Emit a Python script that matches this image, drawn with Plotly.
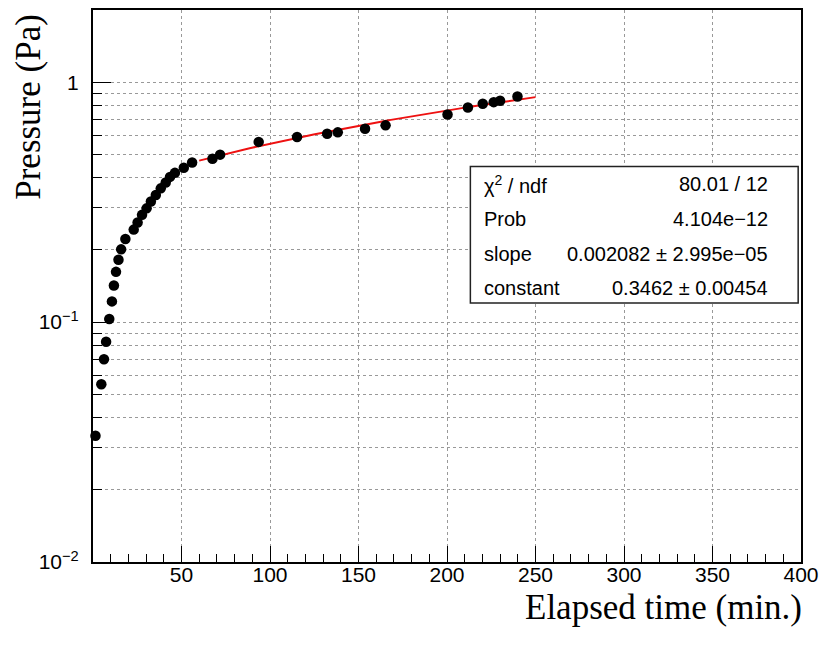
import plotly.graph_objects as go

# ---- data ----
time_min = [1.4, 4.7, 6.2, 7.4, 9.2, 10.7, 11.8, 13.0, 14.4, 15.9, 18.3, 23.0, 25.2,
            27.7, 30.3, 32.7, 35.5, 38.3, 41.1, 43.5, 46.3, 51.3, 56.0, 67.5, 71.8,
            93.6, 115.3, 132.3, 138.3, 153.7, 165.3, 200.3, 211.8, 220.2, 226.4,
            230.0, 239.8]
pressure_pa = [0.0336, 0.0551, 0.070, 0.0828, 0.103, 0.122, 0.142, 0.162, 0.182,
               0.201, 0.222, 0.243, 0.260, 0.280, 0.298, 0.318, 0.339, 0.361, 0.382,
               0.403, 0.419, 0.440, 0.463, 0.480, 0.499, 0.564, 0.591, 0.610, 0.618,
               0.640, 0.661, 0.734, 0.785, 0.813, 0.826, 0.837, 0.872]

fit_slope = 0.002082
fit_constant = 0.3462
fit_range = [60, 250]

stat_labels = ["χ<sup>2</sup> / ndf", "Prob", "slope", "constant"]
stat_values = ["80.01 / 12", "4.104e−12", "0.002082 ± 2.995e−05", "0.3462 ± 0.00454"]

x_tick_vals = [50, 100, 150, 200, 250, 300, 350, 400]
y_tick_vals = [0.01, 0.1, 1]
y_tick_text = ["10<sup>−2</sup>", "10<sup>−1</sup>", "1"]
y_minor_vals = [m * d for d in (0.01, 0.1, 1) for m in range(2, 10)]

# ---- figure ----
fit_x = [fit_range[0] + i * (fit_range[1] - fit_range[0]) / 100 for i in range(101)]
fit_y = [fit_constant + fit_slope * x for x in fit_x]

fig = go.Figure()
fig.add_trace(go.Scatter(x=fit_x, y=fit_y, mode="lines",
                         line=dict(color="#ee1111", width=2), hoverinfo="skip"))
fig.add_trace(go.Scatter(x=time_min, y=pressure_pa, mode="markers",
                         marker=dict(color="black", size=10.5), cliponaxis=False))

grid_col = "#999999"
fig.update_layout(
    width=827, height=646,
    margin=dict(l=93, r=21, t=8, b=84),
    paper_bgcolor="white", plot_bgcolor="white",
    showlegend=False,
    font=dict(family="Liberation Sans, Arial, sans-serif", color="black", size=20),
)
fig.update_xaxes(
    range=[0, 400], tickvals=x_tick_vals, ticks="inside", ticklen=16, tickwidth=1.3,
    tickcolor="black", tickfont=dict(size=21), ticklabelstandoff=-7,
    showgrid=True, gridcolor=grid_col, griddash="dot", gridwidth=1,
    showline=True, linecolor="black", linewidth=2, mirror=True, zeroline=False,
    minor=dict(dtick=10, tick0=0, ticks="inside", ticklen=8, tickwidth=1.3,
               tickcolor="black", showgrid=False),
)
fig.update_yaxes(
    type="log", range=[-2, 0.30103], tickvals=y_tick_vals, ticktext=y_tick_text,
    ticks="inside", ticklen=18, tickwidth=1.3, tickcolor="black",
    tickfont=dict(size=21), ticklabelstandoff=8,
    showgrid=True, gridcolor=grid_col, griddash="dot", gridwidth=1,
    showline=True, linecolor="black", linewidth=2, mirror=True, zeroline=False,
    minor=dict(tickvals=y_minor_vals, ticks="inside", ticklen=9, tickwidth=1.3,
               tickcolor="black", showgrid=True, gridcolor=grid_col, griddash="dot",
               gridwidth=1),
)

# stats box
fig.add_shape(type="rect", xref="paper", yref="paper", x0=0.533, x1=0.996,
              y0=0.4693, y1=0.7166, line=dict(color="#222222", width=1.5),
              fillcolor="white", layer="above")
row_y = [0.6841, 0.6209, 0.5578, 0.4964]
for lab, val, yy in zip(stat_labels, stat_values, row_y):
    fig.add_annotation(text=lab, xref="paper", yref="paper", x=0.5498, y=yy,
                       xanchor="left", yanchor="middle", showarrow=False,
                       font=dict(size=20, color="black"))
    fig.add_annotation(text=val, xref="paper", yref="paper", x=0.9565, y=yy,
                       xanchor="right", yanchor="middle", showarrow=False,
                       font=dict(size=20, color="black"))

# axis titles
title_font = dict(family="Liberation Serif, Times New Roman, serif", size=35, color="black")
fig.add_annotation(text="Elapsed time (min.)", xref="paper", yref="paper",
                   x=1.003, y=-0.083, xanchor="right", yanchor="middle",
                   showarrow=False, font=title_font, borderpad=0)
fig.add_annotation(text="Pressure (Pa)", xref="paper", yref="paper",
                   x=-0.091, y=0.996, xanchor="center", yanchor="top",
                   textangle=-90, showarrow=False, font=title_font)

fig.write_html("out.html")
